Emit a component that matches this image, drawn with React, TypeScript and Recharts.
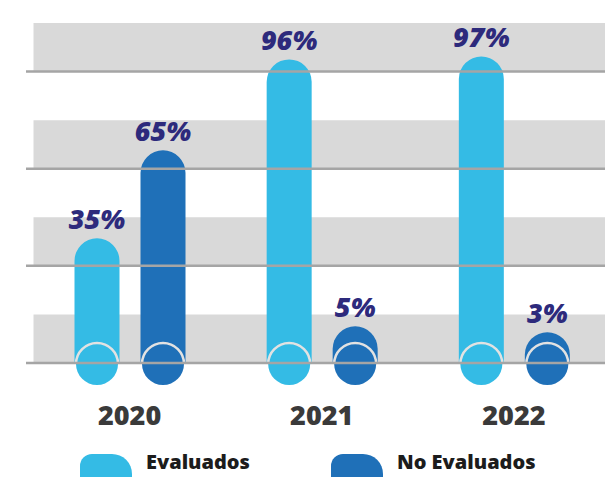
import { BarChart, Bar, XAxis, YAxis, LabelList, Legend, ReferenceArea, ReferenceLine } from "recharts";

const years = ["2020", "2021", "2022"];
const evaluados = [35, 96, 97];
const noEvaluados = [65, 5, 3];

// alternating background bands, in "row" units of the hidden grid axis
const grayRows = [0, 2, 4, 6];
const ruleRows = [0, 2, 4, 6];

const LIGHT = "#34bbe5";
const DARK = "#1f70b8";
const NAVY = "#2d2a7c";
const BASE_DROP = 23; // bars run a little below zero, down to the bottom disc

const data = years.map((year, i) => ({
  year,
  evaluados: evaluados[i],
  noEvaluados: noEvaluados[i],
}));

// eslint-disable-next-line @typescript-eslint/no-explicit-any
function PillBar(props: any) {
  const { x, y, width, height, fill } = props;
  const r = width / 2;
  const cx = x + r;
  const bottom = y + height + BASE_DROP;
  const body = `M${x},${bottom} L${x},${y + r} A${r},${r} 0 0 1 ${x + width},${y + r} L${x + width},${bottom} Z`;
  const cr = 21;
  const ring = `M${cx - cr},${bottom} A${cr},${cr} 0 0 1 ${cx + cr},${bottom}`;
  return (
    <g>
      <path d={body} fill={fill} />
      <circle cx={cx} cy={bottom} r={cr} fill={fill} />
      <path d={ring} fill="none" stroke="#e2e2e2" strokeWidth={2.5} />
    </g>
  );
}

const legendLeft = [80, 331];

// eslint-disable-next-line @typescript-eslint/no-explicit-any
function renderLegend(props: any) {
  const { payload = [] } = props;
  return (
    <div style={{ position: "relative", width: 605, height: 40 }}>
      {/* eslint-disable-next-line @typescript-eslint/no-explicit-any */}
      {payload.map((p: any, i: number) => (
        <div key={p.value}>
          <div
            style={{
              position: "absolute",
              left: legendLeft[i],
              top: 17,
              width: 52,
              height: 23,
              background: p.color,
              borderRadius: "12px 20px 0 0",
            }}
          />
          <div
            style={{
              position: "absolute",
              left: legendLeft[i] + 66,
              top: 15,
              fontSize: 20,
              lineHeight: "20px",
              fontWeight: 800,
              color: "#1c1c1c",
              whiteSpace: "nowrap",
            }}
          >
            {p.value}
          </div>
        </div>
      ))}
    </div>
  );
}

export default function App() {
  return (
    <div style={{ width: 605, height: 477, overflow: "hidden", fontFamily: "'Open Sans', sans-serif" }}>
      <style>{"body{margin:0}"}</style>
      <BarChart
        width={612}
        height={477}
        data={data}
        margin={{ top: 23, right: 2, left: 26, bottom: 0 }}
        barSize={45}
        barGap={21}
      >
        <XAxis
          dataKey="year"
          axisLine={false}
          tickLine={false}
          tickSize={0}
          tickMargin={43}
          height={74}
          padding={{ left: 7.5, right: 0 }}
          tick={{ fill: "#3a3a3a", fontSize: 27, fontWeight: 800 }}
        />
        <YAxis hide type="number" domain={[-7.5, 108.4]} />
        <YAxis yAxisId="grid" hide type="number" domain={[0, 7]} allowDataOverflow />

        {grayRows.map((r) => (
          <ReferenceArea
            key={`band-${r}`}
            yAxisId="grid"
            y1={r}
            y2={r + 1}
            fill="#d9d9d9"
            fillOpacity={1}
            stroke="none"
            ifOverflow="visible"
          />
        ))}
        {ruleRows.map((r) => (
          <ReferenceLine
            key={`rule-${r}`}
            yAxisId="grid"
            y={r}
            stroke="#a5a5a5"
            strokeWidth={2.5}
            ifOverflow="visible"
          />
        ))}

        <Legend
          verticalAlign="bottom"
          height={40}
          content={renderLegend}
          wrapperStyle={{ left: 0, bottom: 0, width: 605, height: 40 }}
        />

        <Bar dataKey="evaluados" name="Evaluados" fill={LIGHT} shape={PillBar} isAnimationActive={false}>
          <LabelList
            dataKey="evaluados"
            position="top"
            offset={9}
            formatter={(v: number) => `${v}%`}
            style={{ fill: NAVY, fontSize: 27, fontWeight: 800, fontStyle: "italic" }}
          />
        </Bar>
        <Bar dataKey="noEvaluados" name="No Evaluados" fill={DARK} shape={PillBar} isAnimationActive={false}>
          <LabelList
            dataKey="noEvaluados"
            position="top"
            offset={9}
            formatter={(v: number) => `${v}%`}
            style={{ fill: NAVY, fontSize: 27, fontWeight: 800, fontStyle: "italic" }}
          />
        </Bar>
      </BarChart>
    </div>
  );
}
